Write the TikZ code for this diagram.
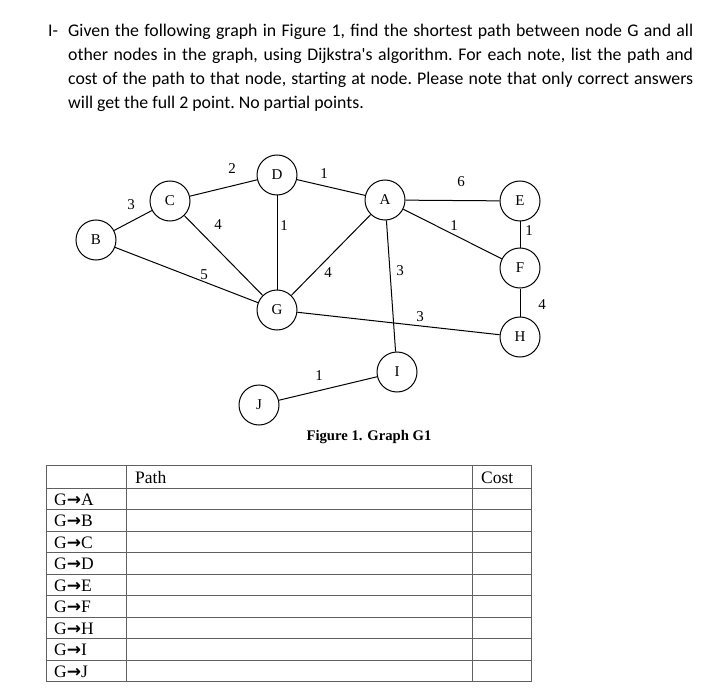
\documentclass[tikz,border=0pt]{standalone}
\usepackage{fontspec}
\setmainfont{Liberation Serif}
\newfontfamily\calibri{Carlito}
\newfontfamily\arrowfont{DejaVu Sans}
\usetikzlibrary{positioning}
\tikzset{
  vtx/.style={draw, circle, minimum size=40pt, inner sep=0pt, line width=1pt, font=\fontsize{15}{15}\selectfont},
  wt/.style={inner sep=0pt, font=\fontsize{15}{15}\selectfont},
  aresta/.style={line width=1pt},
}

\begin{document}
\begin{tikzpicture}[x=1pt, y=-1pt,
  txt/.style={anchor=base west, inner sep=0pt, font=\calibri\fontsize{17.8}{24}\selectfont},
  cel/.style={anchor=base west, inner sep=0pt, font=\fontsize{17.5}{18}\selectfont},
  grade/.style={draw=gray!75!black, line width=0.8pt}]
  \useasboundingbox (0,0) rectangle (712,695);
  % enunciado
  \node[txt] (num) at (48,37) {I-};
  \node[txt, text width=625pt, align=justify] (enun) at (68,37)
    {\frenchspacing Given the following graph in Figure 1, find the shortest path between node G and all\linebreak
     other nodes in the graph, using Dijkstra's algorithm. For each note, list the path and\linebreak
     cost of the path to that node, starting at node. Please note that only correct answers\linebreak
     will get the full 2 point. No partial points.};
  % grafo
  \node[vtx] (B) at (96,240) {B};
  \node[vtx] (C) at (170,201) {C};
  \node[vtx] (D) at (277,175) {D};
  \node[vtx] (A) at (385,200) {A};
  \node[vtx] (E) at (520,201) {E};
  \node[vtx] (F) at (520,268) {F};
  \node[vtx] (G) at (277,310) {G};
  \node[vtx] (H) at (520,337) {H};
  \node[vtx] (I) at (397,372) {I};
  \node[vtx] (J) at (259,405) {J};
  \foreach \a/\b in {B/C,C/D,C/G,B/G,D/G,D/A,A/G,A/I,A/E,A/F,E/F,F/H,G/H,I/J}
    \draw[aresta] (\a) -- (\b);
  \foreach \n/\x/\y/\w in {BC/131/205/3,CD/232/169/2,CG/218/225/4,DG/284/226/1,BG/204/275/5,
      DA/324/174/1,AE/461/182/6,AF/454/226/1,EF/529/231/1,AG/328/273/4,AI/400/271/3,
      GH/420/317/3,FH/542/305/4,IJ/319/376/1}
    \node[wt] (w\n) at (\x,\y) {\w};
  \node[font=\bfseries\fontsize{14.67}{15}\selectfont, inner sep=0pt] (legenda) at (369,437) {Figure 1. Graph G1};
  % tabela
  \foreach \y in {465,488,509.5,531,552.5,574,595.5,617,638.5,660,681.5}
    \draw[grade] (46,\y) -- (531,\y);
  \foreach \x in {46,126,472,531}
    \draw[grade] (\x,465) -- (\x,681.5);
  \node[cel] (path) at (135,483) {Path};
  \node[cel] (cost) at (481,483) {Cost};
  \foreach \l [count=\i] in {A,B,C,D,E,F,H,I,J}
    \node[cel] (r\l) at (54,{483.5+21.5*\i}) {G{\arrowfont\bfseries\fontsize{17}{17}\selectfont →}\l};
\end{tikzpicture}
\end{document}
